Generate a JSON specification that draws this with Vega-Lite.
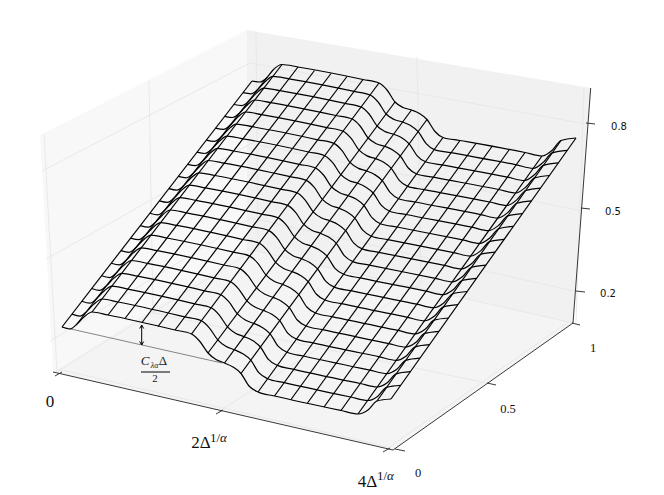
{"$schema":"https://vega.github.io/schema/vega-lite/v6.json","width":664,"height":495,"padding":0,"autosize":{"type":"none"},"background":"white","view":{"stroke":null},
"datasets":{
"panes":[{"pane":"left","u":40,"v":135,"v2":135},{"pane":"left","u":53,"v":128.4,"v2":372},{"pane":"left","u":247,"v":30,"v2":249},{"pane":"right","u":247,"v":30,"v2":249},{"pane":"right","u":573,"v":85.1,"v2":323},{"pane":"right","u":590.7,"v":88,"v2":88},{"pane":"floor","u":53,"v":372,"v2":372},{"pane":"floor","u":247,"v":249,"v2":416.5},{"pane":"floor","u":393,"v":282.1,"v2":450},{"pane":"floor","u":573,"v":323,"v2":323}],
"grid":[{"g":1,"u":42,"v":171},{"g":1,"u":250,"v":63},{"g":2,"u":46.5,"v":259},{"g":2,"u":251,"v":143.5},{"g":3,"u":50,"v":341},{"g":3,"u":251.5,"v":218},{"g":4,"u":250,"v":63},{"g":4,"u":586,"v":124},{"g":5,"u":251,"v":143.5},{"g":5,"u":582,"v":211},{"g":6,"u":251.5,"v":218},{"g":6,"u":578,"v":292},{"g":7,"u":149,"v":81},{"g":7,"u":153,"v":313},{"g":8,"u":417,"v":57},{"g":8,"u":421,"v":283},{"g":9,"u":218,"v":412},{"g":9,"u":421,"v":283},{"g":10,"u":153,"v":313},{"g":10,"u":487,"v":383},{"g":11,"u":44,"v":134},{"g":11,"u":57,"v":372},{"g":12,"u":256,"v":31},{"g":12,"u":258,"v":249},{"g":13,"u":584,"v":88},{"g":13,"u":576,"v":322},{"g":14,"u":388,"v":448},{"g":14,"u":568,"v":322},{"g":15,"u":58,"v":369},{"g":15,"u":388,"v":447},{"g":16,"u":58,"v":371},{"g":16,"u":256,"v":249},{"g":17,"u":247,"v":249},{"g":17,"u":573,"v":323}],
"axes":[{"a":1,"u":53,"v":372},{"a":1,"u":393,"v":450},{"a":2,"u":393,"v":450},{"a":2,"u":573,"v":323},{"a":3,"u":573,"v":323},{"a":3,"u":590.7,"v":88},{"a":4,"u":55,"v":376},{"a":4,"u":62,"v":372},{"a":5,"u":216,"v":414},{"a":5,"u":223,"v":410},{"a":6,"u":383,"v":452},{"a":6,"u":390,"v":448},{"a":7,"u":395,"v":449},{"a":7,"u":405,"v":451},{"a":8,"u":487,"v":383},{"a":8,"u":496,"v":385},{"a":9,"u":572,"v":323},{"a":9,"u":580,"v":325},{"a":10,"u":586,"v":123},{"a":10,"u":595,"v":124},{"a":11,"u":581,"v":208},{"a":11,"u":590,"v":209},{"a":12,"u":576,"v":291},{"a":12,"u":585,"v":292}],
"dim":[{"u":62,"v":327},{"u":222,"v":363}],
"marks":[{"m":1,"u":141.7,"v":325},{"m":1,"u":141.7,"v":345},{"m":2,"u":139.7,"v":328.5},{"m":2,"u":141.7,"v":325},{"m":2,"u":143.7,"v":328.5},{"m":3,"u":139.7,"v":341.5},{"m":3,"u":141.7,"v":345},{"m":3,"u":143.7,"v":341.5},{"m":4,"u":141,"v":372},{"m":4,"u":170,"v":372}],
"length":[{"k":0,"u":62,"v":327},{"k":0,"u":252,"v":81},{"k":1,"u":77,"v":324},{"k":1,"u":267,"v":77.5},{"k":2,"u":92,"v":312},{"k":2,"u":282,"v":64.5},{"k":3,"u":108,"v":315},{"k":3,"u":298,"v":67},{"k":4,"u":125,"v":318.5},{"k":4,"u":314.5,"v":70.5},{"k":5,"u":142,"v":322.5},{"k":5,"u":331,"v":73.5},{"k":6,"u":158,"v":326.5},{"k":6,"u":347,"v":76.5},{"k":7,"u":175,"v":330},{"k":7,"u":363,"v":79.5},{"k":8,"u":191.5,"v":334},{"k":8,"u":379,"v":83},{"k":9,"u":208,"v":353},{"k":9,"u":395,"v":102},{"k":10,"u":224.5,"v":363},{"k":10,"u":411.5,"v":110},{"k":11,"u":241,"v":373.5},{"k":11,"u":427,"v":119.5},{"k":12,"u":258,"v":392},{"k":12,"u":443,"v":137.5},{"k":13,"u":274.5,"v":396},{"k":13,"u":460,"v":140.5},{"k":14,"u":291,"v":399.5},{"k":14,"u":476,"v":143.5},{"k":15,"u":307.5,"v":403},{"k":15,"u":492,"v":146.5},{"k":16,"u":324,"v":407},{"k":16,"u":509,"v":150},{"k":17,"u":341,"v":410.5},{"k":17,"u":525,"v":152.5},{"k":18,"u":358,"v":414},{"k":18,"u":542,"v":156},{"k":19,"u":377,"v":401},{"k":19,"u":561,"v":140.5},{"k":20,"u":391,"v":399},{"k":20,"u":576,"v":138}],
"cross":[
{"c":0,"u":62,"v":327},{"c":0,"u":70,"v":329},{"c":0,"u":77,"v":324},{"c":0,"u":84,"v":317},{"c":0,"u":92,"v":312},{"c":0,"u":108,"v":315},{"c":0,"u":175,"v":330},{"c":0,"u":191.5,"v":334},{"c":0,"u":199.5,"v":341},{"c":0,"u":208,"v":353},{"c":0,"u":216,"v":359.5},{"c":0,"u":224.5,"v":363},{"c":0,"u":233,"v":367},{"c":0,"u":241,"v":373.5},{"c":0,"u":249,"v":386},{"c":0,"u":258,"v":392},{"c":0,"u":274.5,"v":396},{"c":0,"u":341,"v":410.5},{"c":0,"u":358,"v":414},{"c":0,"u":368,"v":410},{"c":0,"u":377,"v":401},{"c":0,"u":391,"v":399},
{"c":1,"u":72,"v":314.1},{"c":1,"u":80,"v":316.1},{"c":1,"u":87,"v":311.1},{"c":1,"u":94,"v":304.1},{"c":1,"u":102,"v":299},{"c":1,"u":118,"v":302},{"c":1,"u":184.9,"v":316.9},{"c":1,"u":201.3,"v":320.8},{"c":1,"u":209.3,"v":327.8},{"c":1,"u":217.8,"v":339.8},{"c":1,"u":225.8,"v":346.3},{"c":1,"u":234.3,"v":349.7},{"c":1,"u":242.8,"v":353.7},{"c":1,"u":250.8,"v":360.2},{"c":1,"u":258.8,"v":372.7},{"c":1,"u":267.7,"v":378.7},{"c":1,"u":284.2,"v":382.6},{"c":1,"u":350.6,"v":397},{"c":1,"u":367.6,"v":400.5},{"c":1,"u":377.6,"v":396.4},{"c":1,"u":386.6,"v":387.3},{"c":1,"u":400.7,"v":385.3},
{"c":2,"u":81.9,"v":301.3},{"c":2,"u":89.9,"v":303.2},{"c":2,"u":96.9,"v":298.2},{"c":2,"u":103.9,"v":291.2},{"c":2,"u":111.9,"v":286.1},{"c":2,"u":127.9,"v":289.1},{"c":2,"u":194.7,"v":303.8},{"c":2,"u":211.1,"v":307.8},{"c":2,"u":219.1,"v":314.8},{"c":2,"u":227.5,"v":326.8},{"c":2,"u":235.5,"v":333.2},{"c":2,"u":244,"v":336.6},{"c":2,"u":252.5,"v":340.5},{"c":2,"u":260.4,"v":347},{"c":2,"u":268.4,"v":359.4},{"c":2,"u":277.4,"v":365.4},{"c":2,"u":293.9,"v":369.3},{"c":2,"u":360.2,"v":383.5},{"c":2,"u":377.2,"v":387},{"c":2,"u":387.2,"v":382.8},{"c":2,"u":396.2,"v":373.8},{"c":2,"u":410.3,"v":371.7},
{"c":3,"u":91.7,"v":288.5},{"c":3,"u":99.7,"v":290.4},{"c":3,"u":106.7,"v":285.4},{"c":3,"u":113.7,"v":278.4},{"c":3,"u":121.7,"v":273.3},{"c":3,"u":137.7,"v":276.2},{"c":3,"u":204.4,"v":290.8},{"c":3,"u":220.8,"v":294.7},{"c":3,"u":228.8,"v":301.7},{"c":3,"u":237.3,"v":313.7},{"c":3,"u":245.3,"v":320.1},{"c":3,"u":253.8,"v":323.4},{"c":3,"u":262.2,"v":327.4},{"c":3,"u":270.1,"v":333.8},{"c":3,"u":278.1,"v":346.2},{"c":3,"u":287,"v":352.2},{"c":3,"u":303.5,"v":356},{"c":3,"u":369.8,"v":370.1},{"c":3,"u":386.8,"v":373.6},{"c":3,"u":396.8,"v":369.3},{"c":3,"u":405.8,"v":360.3},{"c":3,"u":419.9,"v":358.2},
{"c":4,"u":101.5,"v":275.8},{"c":4,"u":109.5,"v":277.6},{"c":4,"u":116.5,"v":272.7},{"c":4,"u":123.5,"v":265.6},{"c":4,"u":131.5,"v":260.5},{"c":4,"u":147.5,"v":263.4},{"c":4,"u":214.1,"v":277.9},{"c":4,"u":230.5,"v":281.8},{"c":4,"u":238.5,"v":288.8},{"c":4,"u":246.9,"v":300.8},{"c":4,"u":254.9,"v":307.1},{"c":4,"u":263.4,"v":310.4},{"c":4,"u":271.8,"v":314.3},{"c":4,"u":279.7,"v":320.7},{"c":4,"u":287.7,"v":333.1},{"c":4,"u":296.5,"v":339.1},{"c":4,"u":313,"v":342.9},{"c":4,"u":379.3,"v":356.8},{"c":4,"u":396.3,"v":360.3},{"c":4,"u":406.3,"v":355.9},{"c":4,"u":415.3,"v":346.8},{"c":4,"u":429.5,"v":344.7},
{"c":5,"u":111.3,"v":263.2},{"c":5,"u":119.3,"v":264.9},{"c":5,"u":126.3,"v":260.1},{"c":5,"u":133.3,"v":252.9},{"c":5,"u":141.3,"v":247.8},{"c":5,"u":157.3,"v":250.7},{"c":5,"u":223.8,"v":265},{"c":5,"u":240.1,"v":268.9},{"c":5,"u":248.1,"v":275.9},{"c":5,"u":256.5,"v":287.9},{"c":5,"u":264.5,"v":294.1},{"c":5,"u":273,"v":297.4},{"c":5,"u":281.4,"v":301.2},{"c":5,"u":289.3,"v":307.6},{"c":5,"u":297.3,"v":320},{"c":5,"u":306.1,"v":326},{"c":5,"u":322.6,"v":329.7},{"c":5,"u":388.7,"v":343.6},{"c":5,"u":405.7,"v":347.1},{"c":5,"u":415.7,"v":342.6},{"c":5,"u":424.7,"v":333.4},{"c":5,"u":439,"v":331.3},
{"c":6,"u":121,"v":250.6},{"c":6,"u":129,"v":252.3},{"c":6,"u":136,"v":247.5},{"c":6,"u":143,"v":240.3},{"c":6,"u":151,"v":235.1},{"c":6,"u":167,"v":238},{"c":6,"u":233.4,"v":252.2},{"c":6,"u":249.7,"v":256.1},{"c":6,"u":257.7,"v":263.1},{"c":6,"u":266.1,"v":275.1},{"c":6,"u":274.1,"v":281.3},{"c":6,"u":282.6,"v":284.4},{"c":6,"u":290.9,"v":288.3},{"c":6,"u":298.8,"v":294.6},{"c":6,"u":306.8,"v":307},{"c":6,"u":315.5,"v":313},{"c":6,"u":332,"v":316.7},{"c":6,"u":398.1,"v":330.4},{"c":6,"u":415.1,"v":333.9},{"c":6,"u":425.1,"v":329.3},{"c":6,"u":434.1,"v":320.1},{"c":6,"u":448.4,"v":318},
{"c":7,"u":130.7,"v":238.1},{"c":7,"u":138.7,"v":239.7},{"c":7,"u":145.7,"v":234.9},{"c":7,"u":152.7,"v":227.7},{"c":7,"u":160.7,"v":222.6},{"c":7,"u":176.7,"v":225.4},{"c":7,"u":242.9,"v":239.5},{"c":7,"u":259.3,"v":243.3},{"c":7,"u":267.3,"v":250.3},{"c":7,"u":275.6,"v":262.3},{"c":7,"u":283.6,"v":268.4},{"c":7,"u":292.1,"v":271.6},{"c":7,"u":300.4,"v":275.4},{"c":7,"u":308.2,"v":281.7},{"c":7,"u":316.2,"v":294},{"c":7,"u":325,"v":300},{"c":7,"u":341.5,"v":303.7},{"c":7,"u":407.5,"v":317.3},{"c":7,"u":424.5,"v":320.8},{"c":7,"u":434.5,"v":316},{"c":7,"u":443.5,"v":306.9},{"c":7,"u":457.9,"v":304.7},
{"c":8,"u":140.3,"v":225.6},{"c":8,"u":148.3,"v":227.2},{"c":8,"u":155.3,"v":222.4},{"c":8,"u":162.3,"v":215.2},{"c":8,"u":170.3,"v":210},{"c":8,"u":186.3,"v":212.8},{"c":8,"u":252.5,"v":226.8},{"c":8,"u":268.8,"v":230.6},{"c":8,"u":276.8,"v":237.6},{"c":8,"u":285,"v":249.6},{"c":8,"u":293,"v":255.7},{"c":8,"u":301.5,"v":258.8},{"c":8,"u":309.8,"v":262.6},{"c":8,"u":317.6,"v":268.9},{"c":8,"u":325.6,"v":281.1},{"c":8,"u":334.3,"v":287.1},{"c":8,"u":350.8,"v":290.7},{"c":8,"u":416.8,"v":304.2},{"c":8,"u":433.8,"v":307.7},{"c":8,"u":443.8,"v":302.9},{"c":8,"u":452.8,"v":293.7},{"c":8,"u":467.2,"v":291.5},
{"c":9,"u":149.9,"v":213.2},{"c":9,"u":157.9,"v":214.8},{"c":9,"u":164.9,"v":210},{"c":9,"u":171.9,"v":202.8},{"c":9,"u":179.9,"v":197.6},{"c":9,"u":195.9,"v":200.3},{"c":9,"u":261.9,"v":214.2},{"c":9,"u":278.2,"v":217.9},{"c":9,"u":286.2,"v":224.9},{"c":9,"u":294.5,"v":236.9},{"c":9,"u":302.5,"v":243},{"c":9,"u":311,"v":246},{"c":9,"u":319.2,"v":249.8},{"c":9,"u":327,"v":256.1},{"c":9,"u":335,"v":268.3},{"c":9,"u":343.7,"v":274.3},{"c":9,"u":360.2,"v":277.9},{"c":9,"u":426.1,"v":291.2},{"c":9,"u":443.1,"v":294.7},{"c":9,"u":453.1,"v":289.8},{"c":9,"u":462.1,"v":280.5},{"c":9,"u":476.5,"v":278.3},
{"c":10,"u":159.4,"v":200.9},{"c":10,"u":167.4,"v":202.4},{"c":10,"u":174.4,"v":197.7},{"c":10,"u":181.4,"v":190.4},{"c":10,"u":189.4,"v":185.2},{"c":10,"u":205.4,"v":187.9},{"c":10,"u":271.4,"v":201.6},{"c":10,"u":287.6,"v":205.4},{"c":10,"u":295.6,"v":212.4},{"c":10,"u":303.8,"v":224.4},{"c":10,"u":311.8,"v":230.3},{"c":10,"u":320.3,"v":233.3},{"c":10,"u":328.6,"v":237.1},{"c":10,"u":336.3,"v":243.3},{"c":10,"u":344.3,"v":255.6},{"c":10,"u":352.9,"v":261.6},{"c":10,"u":369.4,"v":265.1},{"c":10,"u":435.3,"v":278.3},{"c":10,"u":452.3,"v":281.8},{"c":10,"u":462.3,"v":276.7},{"c":10,"u":471.3,"v":267.5},{"c":10,"u":485.8,"v":265.2},
{"c":11,"u":168.9,"v":188.6},{"c":11,"u":176.9,"v":190.1},{"c":11,"u":183.9,"v":185.4},{"c":11,"u":190.9,"v":178.1},{"c":11,"u":198.9,"v":172.8},{"c":11,"u":214.9,"v":175.5},{"c":11,"u":280.7,"v":189.1},{"c":11,"u":297,"v":192.8},{"c":11,"u":305,"v":199.8},{"c":11,"u":313.2,"v":211.8},{"c":11,"u":321.2,"v":217.8},{"c":11,"u":329.7,"v":220.7},{"c":11,"u":337.9,"v":224.4},{"c":11,"u":345.6,"v":230.7},{"c":11,"u":353.6,"v":242.9},{"c":11,"u":362.2,"v":248.9},{"c":11,"u":378.7,"v":252.3},{"c":11,"u":444.5,"v":265.4},{"c":11,"u":461.5,"v":268.9},{"c":11,"u":471.5,"v":263.8},{"c":11,"u":480.5,"v":254.5},{"c":11,"u":495,"v":252.2},
{"c":12,"u":178.3,"v":176.4},{"c":12,"u":186.3,"v":177.8},{"c":12,"u":193.3,"v":173.1},{"c":12,"u":200.3,"v":165.8},{"c":12,"u":208.3,"v":160.5},{"c":12,"u":224.3,"v":163.2},{"c":12,"u":290.1,"v":176.7},{"c":12,"u":306.3,"v":180.4},{"c":12,"u":314.3,"v":187.4},{"c":12,"u":322.4,"v":199.4},{"c":12,"u":330.4,"v":205.3},{"c":12,"u":338.9,"v":208.2},{"c":12,"u":347.1,"v":211.9},{"c":12,"u":354.8,"v":218.1},{"c":12,"u":362.8,"v":230.2},{"c":12,"u":371.4,"v":236.2},{"c":12,"u":387.9,"v":239.6},{"c":12,"u":453.6,"v":252.6},{"c":12,"u":470.6,"v":256.1},{"c":12,"u":480.6,"v":250.9},{"c":12,"u":489.6,"v":241.6},{"c":12,"u":504.2,"v":239.3},
{"c":13,"u":187.7,"v":164.3},{"c":13,"u":195.7,"v":165.6},{"c":13,"u":202.7,"v":161},{"c":13,"u":209.7,"v":153.6},{"c":13,"u":217.7,"v":148.3},{"c":13,"u":233.7,"v":151},{"c":13,"u":299.3,"v":164.3},{"c":13,"u":315.5,"v":168},{"c":13,"u":323.5,"v":175},{"c":13,"u":331.7,"v":187},{"c":13,"u":339.7,"v":192.8},{"c":13,"u":348.2,"v":195.7},{"c":13,"u":356.4,"v":199.3},{"c":13,"u":364,"v":205.5},{"c":13,"u":372,"v":217.7},{"c":13,"u":380.5,"v":223.7},{"c":13,"u":397,"v":227},{"c":13,"u":462.7,"v":239.9},{"c":13,"u":479.7,"v":243.4},{"c":13,"u":489.7,"v":238},{"c":13,"u":498.7,"v":228.7},{"c":13,"u":513.4,"v":226.4},
{"c":14,"u":197,"v":152.2},{"c":14,"u":205,"v":153.5},{"c":14,"u":212,"v":148.9},{"c":14,"u":219,"v":141.5},{"c":14,"u":227,"v":136.2},{"c":14,"u":243,"v":138.8},{"c":14,"u":308.6,"v":152},{"c":14,"u":324.7,"v":155.7},{"c":14,"u":332.7,"v":162.7},{"c":14,"u":340.9,"v":174.7},{"c":14,"u":348.9,"v":180.5},{"c":14,"u":357.4,"v":183.2},{"c":14,"u":365.5,"v":186.9},{"c":14,"u":373.2,"v":193},{"c":14,"u":381.2,"v":205.2},{"c":14,"u":389.6,"v":211.2},{"c":14,"u":406.1,"v":214.5},{"c":14,"u":471.7,"v":227.2},{"c":14,"u":488.7,"v":230.7},{"c":14,"u":498.7,"v":225.3},{"c":14,"u":507.7,"v":215.9},{"c":14,"u":522.4,"v":213.6},
{"c":15,"u":206.3,"v":140.2},{"c":15,"u":214.3,"v":141.4},{"c":15,"u":221.3,"v":136.8},{"c":15,"u":228.3,"v":129.4},{"c":15,"u":236.3,"v":124.1},{"c":15,"u":252.3,"v":126.7},{"c":15,"u":317.8,"v":139.8},{"c":15,"u":333.9,"v":143.4},{"c":15,"u":341.9,"v":150.4},{"c":15,"u":350,"v":162.4},{"c":15,"u":358,"v":168.1},{"c":15,"u":366.5,"v":170.9},{"c":15,"u":374.6,"v":174.5},{"c":15,"u":382.3,"v":180.6},{"c":15,"u":390.3,"v":192.7},{"c":15,"u":398.7,"v":198.7},{"c":15,"u":415.2,"v":202},{"c":15,"u":480.7,"v":214.6},{"c":15,"u":497.7,"v":218.1},{"c":15,"u":507.7,"v":212.6},{"c":15,"u":516.7,"v":203.2},{"c":15,"u":531.5,"v":200.8},
{"c":16,"u":215.5,"v":128.2},{"c":16,"u":223.5,"v":129.4},{"c":16,"u":230.5,"v":124.8},{"c":16,"u":237.5,"v":117.4},{"c":16,"u":245.5,"v":112},{"c":16,"u":261.5,"v":114.6},{"c":16,"u":326.9,"v":127.6},{"c":16,"u":343,"v":131.2},{"c":16,"u":351,"v":138.2},{"c":16,"u":359.1,"v":150.2},{"c":16,"u":367.1,"v":155.9},{"c":16,"u":375.6,"v":158.6},{"c":16,"u":383.7,"v":162.2},{"c":16,"u":391.3,"v":168.3},{"c":16,"u":399.3,"v":180.4},{"c":16,"u":407.7,"v":186.4},{"c":16,"u":424.2,"v":189.6},{"c":16,"u":489.7,"v":202},{"c":16,"u":506.7,"v":205.5},{"c":16,"u":516.7,"v":199.9},{"c":16,"u":525.7,"v":190.5},{"c":16,"u":540.5,"v":188.1},
{"c":17,"u":224.7,"v":116.3},{"c":17,"u":232.7,"v":117.5},{"c":17,"u":239.7,"v":112.9},{"c":17,"u":246.7,"v":105.5},{"c":17,"u":254.7,"v":100},{"c":17,"u":270.7,"v":102.6},{"c":17,"u":336,"v":115.5},{"c":17,"u":352.1,"v":119},{"c":17,"u":360.1,"v":126},{"c":17,"u":368.2,"v":138},{"c":17,"u":376.2,"v":143.7},{"c":17,"u":384.7,"v":146.3},{"c":17,"u":392.7,"v":149.9},{"c":17,"u":400.3,"v":156},{"c":17,"u":408.3,"v":168},{"c":17,"u":416.7,"v":174},{"c":17,"u":433.2,"v":177.2},{"c":17,"u":498.6,"v":189.5},{"c":17,"u":515.6,"v":193},{"c":17,"u":525.6,"v":187.3},{"c":17,"u":534.6,"v":177.9},{"c":17,"u":549.4,"v":175.5},
{"c":18,"u":233.9,"v":104.5},{"c":18,"u":241.9,"v":105.6},{"c":18,"u":248.9,"v":101},{"c":18,"u":255.9,"v":93.6},{"c":18,"u":263.9,"v":88.1},{"c":18,"u":279.9,"v":90.7},{"c":18,"u":345.1,"v":103.4},{"c":18,"u":361.1,"v":107},{"c":18,"u":369.1,"v":114},{"c":18,"u":377.1,"v":126},{"c":18,"u":385.1,"v":131.6},{"c":18,"u":393.6,"v":134.2},{"c":18,"u":401.7,"v":137.7},{"c":18,"u":409.2,"v":143.8},{"c":18,"u":417.2,"v":155.8},{"c":18,"u":425.6,"v":161.8},{"c":18,"u":442.1,"v":164.9},{"c":18,"u":507.4,"v":177.1},{"c":18,"u":524.4,"v":180.6},{"c":18,"u":534.4,"v":174.8},{"c":18,"u":543.4,"v":165.4},{"c":18,"u":558.3,"v":162.9},
{"c":19,"u":243,"v":92.7},{"c":19,"u":251,"v":93.8},{"c":19,"u":258,"v":89.2},{"c":19,"u":265,"v":81.8},{"c":19,"u":273,"v":76.3},{"c":19,"u":289,"v":78.8},{"c":19,"u":354.1,"v":91.4},{"c":19,"u":370.1,"v":95},{"c":19,"u":378.1,"v":102},{"c":19,"u":386.1,"v":114},{"c":19,"u":394.1,"v":119.5},{"c":19,"u":402.6,"v":122},{"c":19,"u":410.6,"v":125.6},{"c":19,"u":418.2,"v":131.6},{"c":19,"u":426.2,"v":143.6},{"c":19,"u":434.4,"v":149.6},{"c":19,"u":450.9,"v":152.7},{"c":19,"u":516.2,"v":164.8},{"c":19,"u":533.2,"v":168.3},{"c":19,"u":543.2,"v":162.4},{"c":19,"u":552.2,"v":152.9},{"c":19,"u":567.2,"v":150.4},
{"c":20,"u":252,"v":81},{"c":20,"u":260,"v":82},{"c":20,"u":267,"v":77.5},{"c":20,"u":273,"v":70},{"c":20,"u":282,"v":64.5},{"c":20,"u":298,"v":67},{"c":20,"u":363,"v":79.5},{"c":20,"u":379,"v":83},{"c":20,"u":387,"v":90},{"c":20,"u":395,"v":102},{"c":20,"u":403,"v":107.5},{"c":20,"u":411.5,"v":110},{"c":20,"u":419.5,"v":113.5},{"c":20,"u":427,"v":119.5},{"c":20,"u":435,"v":131.5},{"c":20,"u":443,"v":137.5},{"c":20,"u":460,"v":140.5},{"c":20,"u":525,"v":152.5},{"c":20,"u":542,"v":156},{"c":20,"u":552.5,"v":150},{"c":20,"u":561,"v":140.5},{"c":20,"u":576,"v":138}],
"xlab":[{"t":"0","u":50,"v":407},{"t":"2Δ","u":201,"v":448},{"t":"4Δ","u":367.5,"v":487}],
"xsup":[{"t":"1/","u":210,"v":442},{"t":"1/","u":377,"v":480}],
"xsupa":[{"t":"α","u":220,"v":442},{"t":"α","u":387,"v":480}],
"ylab":[{"t":"0","u":418,"v":477},{"t":"0.5","u":508,"v":413},{"t":"1","u":593,"v":352}],
"zlab":[{"t":"0.8","u":619,"v":130},{"t":"0.5","u":613,"v":215},{"t":"0.2","u":608,"v":297}],
"frac":[{"t":"C","u":145,"v":365}],
"fracd":[{"t":"Δ","u":163,"v":365}],
"fracsub":[{"t":"λα","u":154.5,"v":368}],
"fracden":[{"t":"2","u":155,"v":382}]
},
"encoding":{"x":{"field":"u","type":"quantitative","scale":{"domain":[0,664],"nice":false,"zero":false},"axis":null},"y":{"field":"v","type":"quantitative","scale":{"domain":[495,0],"nice":false,"zero":false},"axis":null}},
"layer":[
{"data":{"name":"panes"},"mark":{"type":"area","opacity":1,"interpolate":"linear"},"encoding":{"y2":{"field":"v2"},"color":{"field":"pane","type":"nominal","scale":{"domain":["left","right","floor"],"range":["#f8f8f8","#f1f1f1","#f4f4f4"]},"legend":null}}},
{"data":{"name":"grid"},"mark":{"type":"line","color":"#e6e6e6","strokeWidth":0.9},"encoding":{"detail":{"field":"g","type":"nominal"}}},
{"data":{"name":"axes"},"mark":{"type":"line","color":"#222222","strokeWidth":0.9},"encoding":{"detail":{"field":"a","type":"nominal"}}},
{"data":{"name":"dim"},"mark":{"type":"line","color":"#555555","strokeWidth":0.7},"encoding":{}},
{"data":{"name":"marks"},"mark":{"type":"line","color":"#000000","strokeWidth":1},"encoding":{"detail":{"field":"m","type":"nominal"}}},
{"data":{"name":"length"},"mark":{"type":"line","color":"#000000","strokeWidth":1.2},"encoding":{"detail":{"field":"k","type":"nominal"}}},
{"data":{"name":"cross"},"mark":{"type":"line","color":"#000000","strokeWidth":1.2,"interpolate":"monotone"},"encoding":{"detail":{"field":"c","type":"nominal"}}},
{"data":{"name":"xlab"},"mark":{"type":"text","font":"Liberation Serif","fontSize":17,"align":"center","baseline":"alphabetic","color":"#111111"},"encoding":{"text":{"field":"t"}}},
{"data":{"name":"xsup"},"mark":{"type":"text","font":"Liberation Serif","fontSize":13,"align":"left","baseline":"alphabetic","color":"#111111"},"encoding":{"text":{"field":"t"}}},
{"data":{"name":"xsupa"},"mark":{"type":"text","font":"Liberation Serif","fontSize":13,"align":"left","baseline":"alphabetic","fontStyle":"italic","color":"#111111"},"encoding":{"text":{"field":"t"}}},
{"data":{"name":"ylab"},"mark":{"type":"text","font":"Liberation Serif","fontSize":12.5,"align":"center","baseline":"alphabetic","color":"#111111"},"encoding":{"text":{"field":"t"}}},
{"data":{"name":"zlab"},"mark":{"type":"text","font":"DejaVu Sans","fontSize":10,"align":"center","baseline":"alphabetic","color":"#111111"},"encoding":{"text":{"field":"t"}}},
{"data":{"name":"frac"},"mark":{"type":"text","font":"Liberation Serif","fontSize":13,"align":"center","baseline":"alphabetic","fontStyle":"italic","color":"#222222"},"encoding":{"text":{"field":"t"}}},
{"data":{"name":"fracd"},"mark":{"type":"text","font":"Liberation Serif","fontSize":13,"align":"center","baseline":"alphabetic","color":"#222222"},"encoding":{"text":{"field":"t"}}},
{"data":{"name":"fracsub"},"mark":{"type":"text","font":"Liberation Serif","fontSize":8,"align":"center","baseline":"alphabetic","fontStyle":"italic","color":"#222222"},"encoding":{"text":{"field":"t"}}},
{"data":{"name":"fracden"},"mark":{"type":"text","font":"Liberation Serif","fontSize":11,"align":"center","baseline":"alphabetic","color":"#222222"},"encoding":{"text":{"field":"t"}}}
]}
